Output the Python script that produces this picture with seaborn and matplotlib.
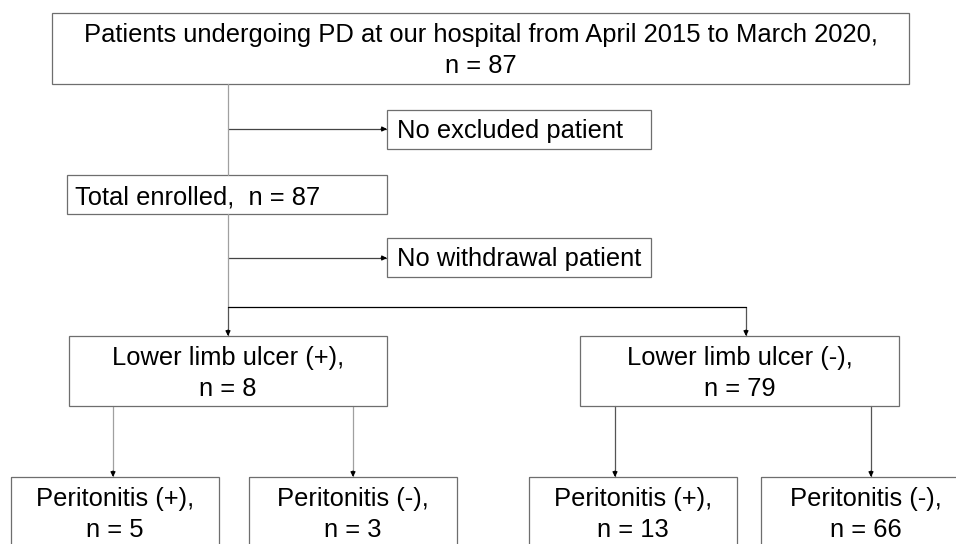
import matplotlib.pyplot as plt
import seaborn as sns
from matplotlib.patches import Rectangle

# flowchart content
stage_labels = [
    "Patients undergoing PD at our hospital from April 2015 to March 2020,",
    "Total enrolled,",
    "Lower limb ulcer (+),",
    "Lower limb ulcer (-),",
    "Peritonitis (+),",
    "Peritonitis (-),",
    "Peritonitis (+),",
    "Peritonitis (-),",
]
stage_counts = [87, 87, 8, 79, 5, 3, 13, 66]
side_labels = ["No excluded patient", "No withdrawal patient"]

# layout in pixel units (x0, y0, x1, y1)
stage_boxes = [
    (52, 13, 909, 84),
    (67, 175, 387, 214),
    (69, 336, 387, 406),
    (580, 336, 899, 406),
    (11, 477, 219, 560),
    (249, 477, 457, 560),
    (529, 477, 737, 560),
    (761, 477, 971, 560),
]
side_boxes = [(387, 110, 651, 149), (387, 238, 651, 277)]

W, H = 956, 544
sns.set_theme(style="white")
plt.rcParams["font.family"] = ["Liberation Sans", "DejaVu Sans"]

fig = plt.figure(figsize=(W / 100, H / 100), dpi=100)
ax = fig.add_axes([0, 0, 1, 1])
ax.set_xlim(0, W)
ax.set_ylim(H, 0)
ax.axis("off")

edge = "#6e6e6e"
lw = 0.9
fs = 18.4


def box(b):
    x0, y0, x1, y1 = b
    ax.add_patch(Rectangle((x0, y0), x1 - x0, y1 - y0, fill=False,
                           edgecolor=edge, lw=lw, zorder=2))


def arrow(x0, y0, x1, y1, color="#444444"):
    # shaft in its own colour, small black head
    ax.plot([x0, x1], [y0, y1], color=color, lw=lw, zorder=1)
    dx = 0 if x0 == x1 else 6
    dy = 0 if y0 == y1 else 6
    ax.annotate("", xy=(x1, y1), xytext=(x1 - dx, y1 - dy),
                arrowprops=dict(arrowstyle="-|>", color="black", lw=lw,
                                mutation_scale=7, shrinkA=0, shrinkB=0))


# boxes and text
for i, (lab, n, b) in enumerate(zip(stage_labels, stage_counts, stage_boxes)):
    box(b)
    x0, y0, x1, y1 = b
    if i == 1:
        ax.text(x0 + 8, y0 + 29, f"{lab}  n = {n}", ha="left",
                va="baseline", fontsize=fs, color="black")
        continue
    cx = (x0 + x1) / 2
    ax.text(cx, y0 + 29, lab, ha="center", va="baseline",
            fontsize=fs, color="black")
    ax.text(cx, y0 + 60, f"n = {n}", ha="center", va="baseline",
            fontsize=fs, color="black")

for lab, b in zip(side_labels, side_boxes):
    box(b)
    x0, y0, x1, y1 = b
    ax.text(x0 + 10, y0 + 28, lab, ha="left", va="baseline",
            fontsize=fs, color="black")

# connectors
trunk_x = 228
ax.plot([trunk_x, trunk_x], [84, 175], color="#a0a0a0", lw=lw)
ax.plot([trunk_x, trunk_x], [214, 307], color="#a0a0a0", lw=lw)
arrow(trunk_x, 129, 387, 129)
arrow(trunk_x, 258, 387, 258)
ax.plot([trunk_x, 746], [307, 307], color="black", lw=lw)
arrow(trunk_x, 307, trunk_x, 336, color="#555555")
arrow(746, 307, 746, 336, color="#555555")

for x in (113, 353):
    arrow(x, 406, x, 477, color="#a0a0a0")
for x in (615, 871):
    arrow(x, 406, x, 477, color="#555555")

fig.savefig("out.png", dpi=100)
